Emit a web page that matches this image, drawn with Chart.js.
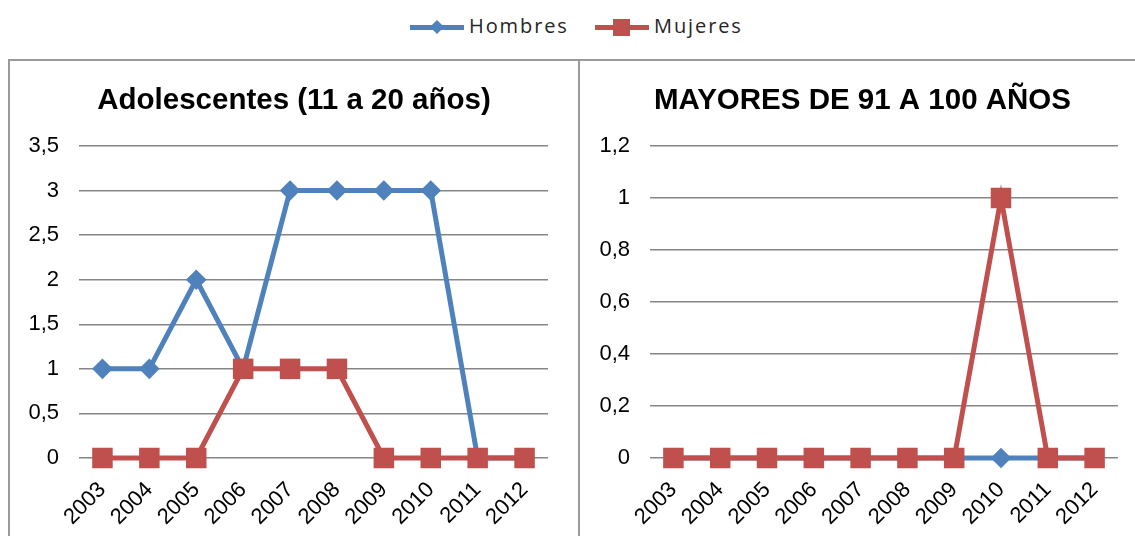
<!DOCTYPE html>
<html>
<head>
<meta charset="utf-8">
<script src="https://cdn.jsdelivr.net/npm/chart.js@4.4.1/dist/chart.umd.min.js"></script>
<style>
  body { margin: 0; background: #fff; }
  #page { position: relative; width: 1135px; height: 536px; overflow: hidden; background: #fff; }
  .panel { position: absolute; top: 59px; height: 500px; border: 2px solid #9a9a9a; box-sizing: border-box; }
  .box { position: absolute; }
  .legend { position: absolute; top: 15px; height: 24px; font-family: "Open Sans", sans-serif; font-size: 20px; letter-spacing: 1.9px; color: #262626; }
  .legend .line { position: absolute; top: 10px; width: 54px; height: 5px; }
  .legend .mark { position: absolute; }
  .legend .txt { position: absolute; top: -3px; white-space: nowrap; }
</style>
</head>
<body>
<div id="page">
  <div class="legend" style="left:410px">
    <div class="line" style="left:0;background:#4f81bd"></div>
    <div class="mark" style="left:22px;top:7px;width:10px;height:10px;background:#4f81bd;transform:rotate(45deg)"></div>
    <div class="txt" style="left:59px">Hombres</div>
  </div>
  <div class="legend" style="left:595px">
    <div class="line" style="left:0;background:#c0504d"></div>
    <div class="mark" style="left:18px;top:4px;width:17px;height:17px;background:#c0504d"></div>
    <div class="txt" style="left:59px">Mujeres</div>
  </div>

  <div class="panel" style="left:8px;width:572px"></div>
  <div class="panel" style="left:578px;width:600px"></div>

  <div class="box" style="left:10px;top:61px;width:568px;height:475px"><canvas id="adolChart"></canvas></div>
  <div class="box" style="left:580px;top:61px;width:565px;height:475px"><canvas id="mayoresChart"></canvas></div>
</div>
<script>
const years = ['2003', '2004', '2005', '2006', '2007', '2008', '2009', '2010', '2011', '2012'];

const adolHombres = [1, 1, 2, 1, 3, 3, 3, 3, 0, 0];
const adolMujeres = [0, 0, 0, 1, 1, 1, 0, 0, 0, 0];

const mayoresHombres = [0, 0, 0, 0, 0, 0, 0, 0, 0, 0];
const mayoresMujeres = [0, 0, 0, 0, 0, 0, 0, 1, 0, 0];

const blue = '#4f81bd';
const red = '#c0504d';
const font = '"Liberation Sans", Arial, sans-serif';

// decimal comma, no trailing ",0"
function commaTick(value) {
  return String(Math.round(value * 10) / 10).replace('.', ',');
}

function buildChart(id, title, hombres, mujeres, yMax, yStep, yWidth, rightGap) {
  const ctx = document.getElementById(id).getContext('2d');
  return new Chart(ctx, {
    type: 'line',
    data: {
      labels: years,
      datasets: [{
        label: 'Hombres',
        data: hombres,
        borderColor: blue,
        backgroundColor: blue,
        borderWidth: 5,
        pointStyle: 'rectRot',
        pointRadius: 10.3,
        pointBorderWidth: 0,
        tension: 0,
        clip: false,
        order: 1
      }, {
        label: 'Mujeres',
        data: mujeres,
        borderColor: red,
        backgroundColor: red,
        borderWidth: 5,
        pointStyle: 'rect',
        pointRadius: 14.5,
        pointBorderWidth: 0,
        tension: 0,
        clip: false,
        order: 0
      }]
    },
    options: {
      responsive: true,
      maintainAspectRatio: false,
      animation: false,
      layout: { padding: 0 },
      plugins: {
        legend: { display: false },
        tooltip: { enabled: false },
        title: {
          display: true,
          text: title,
          color: '#000',
          font: { family: font, size: 29.5, weight: 'bold', lineHeight: 1.2 },
          padding: { top: 22, bottom: 27.6 }
        }
      },
      scales: {
        x: {
          offset: true,
          grid: { display: false, drawTicks: false },
          border: { display: false },
          ticks: {
            color: '#000',
            font: { family: font, size: 22 },
            maxRotation: 45,
            minRotation: 45,
            padding: 19,
            autoSkip: false
          },
          afterFit: scale => { scale.height = 78; }
        },
        y: {
          min: 0,
          max: yMax,
          grid: { color: '#868686', lineWidth: 1.5, drawTicks: false },
          border: { display: false },
          ticks: {
            stepSize: yStep,
            color: '#000',
            font: { family: font, size: 22 },
            padding: 20,
            callback: commaTick
          },
          afterFit: scale => { scale.width = yWidth; }
        },
        // empty axis that keeps a gap right of the plot
        gap: {
          position: 'right',
          min: 0,
          max: 1,
          grid: { display: false, drawTicks: false },
          border: { display: false },
          ticks: { display: false },
          afterFit: scale => { scale.width = rightGap; }
        }
      }
    }
  });
}

buildChart('adolChart', 'Adolescentes (11 a 20 años)', adolHombres, adolMujeres, 3.5, 0.5, 69, 30);
buildChart('mayoresChart', 'MAYORES DE 91 A 100 AÑOS', mayoresHombres, mayoresMujeres, 1.2, 0.2, 70, 27);
</script>
</body>
</html>
